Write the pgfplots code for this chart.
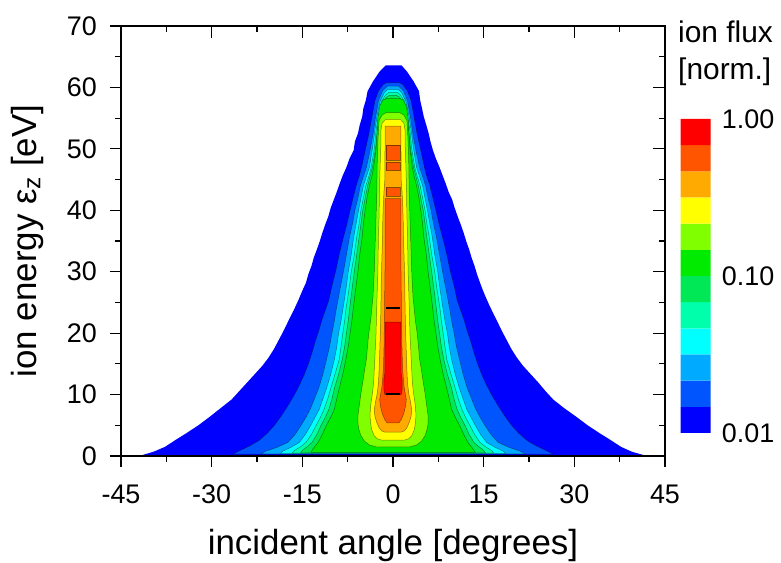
\documentclass[border=0pt]{standalone}
\usepackage{fontspec}
\setmainfont{Liberation Sans}
\usepackage{pgfplots}
\pgfplotsset{compat=1.18}
\definecolor{c1}{RGB}{0,0,255}
\definecolor{c2}{RGB}{0,85,255}
\definecolor{c3}{RGB}{0,170,255}
\definecolor{c4}{RGB}{0,255,255}
\definecolor{c5}{RGB}{0,255,170}
\definecolor{c6}{RGB}{0,232,85}
\definecolor{c7}{RGB}{0,235,0}
\definecolor{c8}{RGB}{128,255,0}
\definecolor{c9}{RGB}{255,255,0}
\definecolor{c10}{RGB}{255,170,0}
\definecolor{c11}{RGB}{255,85,0}
\definecolor{c12}{RGB}{255,0,0}
\pgfplotsset{cl/.style={fill=#1, draw=black, draw opacity=0.45, line width=0.5bp}}
\begin{document}
\begin{tikzpicture}
\path[use as bounding box] (-121bp,-107bp) rectangle (660bp,456bp);
\begin{axis}[at={(0,0)}, anchor=south west, scale only axis, width=544bp, height=430bp,
  xmin=-45, xmax=45, ymin=0, ymax=70, axis on top,
  xtick={-45,-30,-15,0,15,30,45}, xticklabels={-45,-30,-15,0,15,30,45},
  ytick={0,10,20,30,40,50,60,70}, yticklabels={0,10,20,30,40,50,60,70},
  minor x tick num=1, minor y tick num=1,
  xtick pos=left, ytick pos=left, tick align=outside,
  major tick length=11bp, minor tick length=6bp,
  axis line style={line width=1.2bp}, tick style={line width=1.1bp, black},
  tick label style={font=\fontsize{27}{32}\selectfont, inner sep=0pt},
  xticklabel style={anchor=north, yshift=-18bp},
  yticklabel style={anchor=east, xshift=-13bp},
  xlabel={incident angle [degrees]}, ylabel={ion energy ε\textsubscript{z} [eV]},
  label style={font=\fontsize{35}{42}\selectfont},
  xlabel style={at={(axis description cs:0.5,-0.207)}, anchor=center},
  ylabel style={at={(axis description cs:-0.1728,0.5)}, anchor=center},
]
% level 1
\addplot[fill=c1, draw=none] coordinates {(-42,0) (42,0) (39.5,0.7) (37.7,1.5) (36,2.6) (34.2,3.7) (32.2,5) (30.3,6.4) (28.3,7.8) (26.5,9.2) (25.2,10.6) (24,12) (22.7,13.4) (21.5,14.7) (20.5,16) (19.6,17.4) (18.9,18.7) (18.2,20) (17.5,21.4) (16.8,22.8) (16.1,24.2) (15.5,25.5) (14.9,26.9) (14.4,28.2) (13.9,29.6) (13.5,30.9) (13.0,32.3) (12.6,33.6) (12.1,35) (11.7,36.3) (11.2,37.7) (10.7,39) (10.2,40.4) (9.8,41.7) (9.2,43) (8.7,44.4) (8.2,45.7) (7.7,47) (7.1,48.4) (6.6,49.8) (6.2,51.2) (5.9,52.5) (5.5,53.9) (5.1,55.2) (4.8,56.6) (4.5,57.9) (4.3,59.4) (3.4,61) (2.3,62.6) (1.4,63.6) (-1.2,63.6) (-2.2,62.6) (-3.3,61) (-4.2,59.4) (-4.5,57.9) (-4.9,56.6) (-5.1,55.2) (-5.5,53.9) (-5.8,52.5) (-6.3,51.2) (-6.5,49.8) (-7.2,48.4) (-7.7,47) (-8.3,45.7) (-8.8,44.4) (-9.3,43) (-9.8,41.7) (-10.3,40.4) (-10.7,39) (-11.2,37.7) (-11.7,36.3) (-12.1,35) (-12.6,33.6) (-13.1,32.3) (-13.5,30.9) (-14.0,29.6) (-14.4,28.2) (-15.0,26.9) (-15.6,25.5) (-16.2,24.2) (-16.9,22.8) (-17.6,21.4) (-18.3,20) (-19.0,18.7) (-19.7,17.4) (-20.6,16) (-21.6,14.7) (-22.8,13.4) (-24.1,12) (-25.4,10.6) (-26.7,9.2) (-28.5,7.8) (-30.3,6.4) (-32.2,5) (-34.2,3.7) (-36,2.6) (-37.7,1.5) (-39.6,0.7) (-42,0)};
% level 2
\addplot[cl=c2] coordinates {(-26.5,0.3) (26.5,0.3) (25.5,0.8) (23.8,1.6) (22.2,2.5) (20.8,3.7) (19.6,5) (18.5,6.5) (17.5,8) (16.4,9.8) (15.5,11.5) (14.7,13.2) (14,15) (13.4,16.8) (12.9,18.5) (12.3,20.3) (11.8,22) (11.2,23.7) (10.6,25.4) (10.1,27.7) (9.5,30) (8.9,32.8) (8.2,35.6) (7.6,37.8) (7.1,40) (6.6,42) (6.1,44) (5.6,45.5) (5.2,47) (4.6,49.7) (4.0,52.4) (3.5,55.1) (3.0,57.8) (2.4,59.4) (1.6,60.5) (1.0,60.8) (-1.0,60.8) (-1.6,60.5) (-2.4,59.4) (-3.0,57.8) (-3.5,55.1) (-4.0,52.4) (-4.6,49.7) (-5.2,47) (-5.6,45.5) (-6.1,44) (-6.6,42) (-7.1,40) (-7.6,37.8) (-8.2,35.6) (-8.9,32.8) (-9.5,30) (-10.1,27.7) (-10.6,25.4) (-11.2,23.7) (-11.8,22) (-12.3,20.3) (-12.9,18.5) (-13.4,16.8) (-14,15) (-14.7,13.2) (-15.5,11.5) (-16.4,9.8) (-17.5,8) (-18.5,6.5) (-19.6,5) (-20.8,3.7) (-22.2,2.5) (-23.8,1.6) (-25.5,0.8) (-26.5,0.3)};
% level 3
\addplot[cl=c3] coordinates {(-21.8,0.35) (21.8,0.35) (21.0,0.8) (19.2,1.4) (17.4,2.2) (16.2,3.5) (15.2,5) (14.4,6.3) (13.7,7.6) (13,9.3) (12.3,11) (11.6,13.3) (11.0,15.7) (10.5,17.8) (10.1,20) (9.7,22) (9.4,23.8) (8.8,27) (8.2,30) (7.7,32.8) (7.2,35.6) (6.7,37.8) (6.3,40) (5.8,42) (5.4,44) (4.9,45.5) (4.4,47) (3.8,49.7) (3.3,52.4) (2.9,55.1) (2.4,57.8) (1.7,59.5) (0.9,60.2) (-0.9,60.2) (-1.7,59.5) (-2.4,57.8) (-2.9,55.1) (-3.3,52.4) (-3.8,49.7) (-4.4,47) (-4.9,45.5) (-5.4,44) (-5.8,42) (-6.3,40) (-6.7,37.8) (-7.2,35.6) (-7.7,32.8) (-8.2,30) (-8.8,27) (-9.4,23.8) (-9.7,22) (-10.1,20) (-10.5,17.8) (-11.0,15.7) (-11.6,13.3) (-12.3,11) (-13,9.3) (-13.7,7.6) (-14.4,6.3) (-15.2,5) (-16.2,3.5) (-17.4,2.2) (-19.2,1.4) (-21.0,0.8) (-21.8,0.35)};
% level 4
\addplot[cl=c4] coordinates {(-18.6,0.4) (18.6,0.4) (18.2,0.8) (16.9,1.4) (15.5,2.2) (14.5,3.5) (13.6,5) (12.9,6.3) (12.2,7.6) (11.6,9.3) (11.0,11) (10.3,13.3) (9.7,15.7) (9.3,17.8) (9.0,20) (8.6,22) (8.3,23.8) (7.8,27) (7.4,30) (6.9,32.8) (6.5,35.6) (6.1,37.8) (5.7,40) (5.3,42) (4.9,44) (4.4,45.5) (3.9,47) (3.4,50) (3.0,53) (2.6,55.5) (2.1,57.8) (1.4,59.2) (0.8,59.7) (-0.8,59.7) (-1.4,59.2) (-2.1,57.8) (-2.6,55.5) (-3.0,53) (-3.4,50) (-3.9,47) (-4.4,45.5) (-4.9,44) (-5.3,42) (-5.7,40) (-6.1,37.8) (-6.5,35.6) (-6.9,32.8) (-7.4,30) (-7.8,27) (-8.3,23.8) (-8.6,22) (-9.0,20) (-9.3,17.8) (-9.7,15.7) (-10.3,13.3) (-11.0,11) (-11.6,9.3) (-12.2,7.6) (-12.9,6.3) (-13.6,5) (-14.5,3.5) (-15.5,2.2) (-16.9,1.4) (-18.2,0.8) (-18.6,0.4)};
% level 5
\addplot[cl=c5] coordinates {(-16.7,0.45) (16.7,0.45) (16.3,0.9) (15.3,1.5) (14.4,2.2) (13.5,3.5) (12.7,5) (12.0,6.3) (11.4,7.6) (10.8,9.3) (10.3,11) (9.6,13.3) (8.9,15.7) (8.6,17.8) (8.3,20) (8.0,22) (7.8,23.8) (7.3,27) (6.9,30) (6.4,32.8) (6.0,35.6) (5.6,37.8) (5.3,40) (4.9,42) (4.5,44) (4.0,45.5) (3.6,47) (3.1,50) (2.8,53) (2.4,55.5) (1.9,57.8) (1.2,58.8) (0.7,59.2) (-0.7,59.2) (-1.2,58.8) (-1.9,57.8) (-2.4,55.5) (-2.8,53) (-3.1,50) (-3.6,47) (-4.0,45.5) (-4.5,44) (-4.9,42) (-5.3,40) (-5.6,37.8) (-6.0,35.6) (-6.4,32.8) (-6.9,30) (-7.3,27) (-7.8,23.8) (-8.0,22) (-8.3,20) (-8.6,17.8) (-8.9,15.7) (-9.6,13.3) (-10.3,11) (-10.8,9.3) (-11.4,7.6) (-12.0,6.3) (-12.7,5) (-13.5,3.5) (-14.4,2.2) (-15.3,1.5) (-16.3,0.9) (-16.7,0.45)};
% level 6
\addplot[cl=c6] coordinates {(-15.3,0.5) (15.3,0.5) (14.9,1.0) (14.1,1.6) (13.4,2.2) (12.6,3.5) (11.9,5) (11.2,6.3) (10.6,7.6) (10.1,9.3) (9.7,11) (9.0,13.3) (8.4,15.7) (8.0,17.8) (7.7,20) (7.4,22) (7.2,23.8) (6.8,27) (6.4,30) (6.0,32.8) (5.6,35.6) (5.3,37.8) (5.0,40) (4.6,42) (4.2,44) (3.8,45.5) (3.4,47) (2.9,50) (2.6,53) (2.2,55.5) (1.7,57.5) (1.1,58.4) (0.6,58.7) (-0.6,58.7) (-1.1,58.4) (-1.7,57.5) (-2.2,55.5) (-2.6,53) (-2.9,50) (-3.4,47) (-3.8,45.5) (-4.2,44) (-4.6,42) (-5.0,40) (-5.3,37.8) (-5.6,35.6) (-6.0,32.8) (-6.4,30) (-6.8,27) (-7.2,23.8) (-7.4,22) (-7.7,20) (-8.0,17.8) (-8.4,15.7) (-9.0,13.3) (-9.7,11) (-10.1,9.3) (-10.6,7.6) (-11.2,6.3) (-11.9,5) (-12.6,3.5) (-13.4,2.2) (-14.1,1.6) (-14.9,1.0) (-15.3,0.5)};
% level 7
\addplot[cl=c7] coordinates {(-13.6,0.6) (13.6,0.6) (13.2,1.2) (12.4,2.2) (11.7,3.5) (11.0,5) (10.3,6.3) (9.7,7.6) (9.3,9.3) (8.9,11) (8.3,13.3) (7.8,15.7) (7.4,17.8) (7.1,20) (6.8,22) (6.6,23.8) (6.2,27) (5.8,30) (5.5,32.8) (5.1,35.6) (4.9,37.8) (4.6,40) (4.3,42) (3.9,44) (3.5,45.5) (3.2,47) (2.8,50) (2.6,53) (2.5,55) (2.2,57) (1.6,58.0) (1.0,58.2) (-1.0,58.2) (-1.6,58.0) (-2.2,57) (-2.5,55) (-2.6,53) (-2.8,50) (-3.2,47) (-3.5,45.5) (-3.9,44) (-4.3,42) (-4.6,40) (-4.9,37.8) (-5.1,35.6) (-5.5,32.8) (-5.8,30) (-6.2,27) (-6.6,23.8) (-6.8,22) (-7.1,20) (-7.4,17.8) (-7.8,15.7) (-8.3,13.3) (-8.9,11) (-9.3,9.3) (-9.7,7.6) (-10.3,6.3) (-11.0,5) (-11.7,3.5) (-12.4,2.2) (-13.2,1.2) (-13.6,0.6)};
% level 8
\addplot[cl=c8] coordinates {(-2.8,1.5) (2.8,1.5) (3.9,1.8) (4.7,2.4) (5.3,3.3) (5.7,4.5) (5.8,5.5) (5.8,6.6) (5.6,8) (5.3,10.2) (5.0,12) (4.7,14) (4.4,15.7) (4.2,18) (4.0,20) (3.7,22) (3.5,24) (3.3,26) (3.2,28) (3.1,30) (3.0,33) (2.9,36) (2.8,39) (2.7,42) (2.65,45) (2.6,48) (2.5,51) (2.4,53) (2.3,54.6) (1.8,55.5) (1.1,55.9) (-1.1,55.9) (-1.8,55.5) (-2.3,54.6) (-2.4,53) (-2.5,51) (-2.6,48) (-2.65,45) (-2.7,42) (-2.8,39) (-2.9,36) (-3.0,33) (-3.1,30) (-3.2,28) (-3.3,26) (-3.5,24) (-3.7,22) (-4.0,20) (-4.2,18) (-4.4,15.7) (-4.7,14) (-5.0,12) (-5.3,10.2) (-5.6,8) (-5.8,6.6) (-5.8,5.5) (-5.7,4.5) (-5.3,3.3) (-4.7,2.4) (-3.9,1.8) (-2.8,1.5)};
% level 9
\addplot[cl=c9] coordinates {(-1.9,2.6) (1.9,2.6) (2.6,2.8) (3.1,3.3) (3.5,4.2) (3.7,5.3) (3.8,6.6) (3.7,8.2) (3.4,10.2) (3.2,12) (3.1,14) (3.0,16) (2.9,18) (2.8,20) (2.75,22) (2.7,24) (2.6,27) (2.5,30) (2.45,33) (2.4,36) (2.3,39) (2.25,42) (2.2,45) (2.1,48) (2.0,51) (2.0,53) (1.8,54.2) (1.2,54.8) (-1.2,54.8) (-1.8,54.2) (-2.0,53) (-2.0,51) (-2.1,48) (-2.2,45) (-2.25,42) (-2.3,39) (-2.4,36) (-2.45,33) (-2.5,30) (-2.6,27) (-2.7,24) (-2.75,22) (-2.8,20) (-2.9,18) (-3.0,16) (-3.1,14) (-3.2,12) (-3.4,10.2) (-3.7,8.2) (-3.8,6.6) (-3.7,5.3) (-3.5,4.2) (-3.1,3.3) (-2.6,2.8) (-1.9,2.6)};
% level 10
\addplot[cl=c10] coordinates {(-1.4,3.9) (1.4,3.9) (1.9,4.1) (2.3,4.6) (2.7,5.5) (3.0,6.5) (3.1,7.5) (2.9,8.8) (2.6,10.2) (2.4,12) (2.3,14) (2.2,17) (2.1,20) (2.0,24) (1.95,28) (1.85,32) (1.75,35) (1.7,38) (1.6,41) (1.5,43) (1.35,45) (1.3,53.7) (-1.3,53.7) (-1.35,45) (-1.5,43) (-1.6,41) (-1.7,38) (-1.75,35) (-1.85,32) (-1.95,28) (-2.0,24) (-2.1,20) (-2.2,17) (-2.3,14) (-2.4,12) (-2.6,10.2) (-2.9,8.8) (-3.1,7.5) (-3.0,6.5) (-2.7,5.5) (-2.3,4.6) (-1.9,4.1) (-1.4,3.9)};
% level 11
\addplot[cl=c11] coordinates {(-1.0,5.4) (1.0,5.4) (1.4,6.0) (1.8,7.0) (2.1,8.2) (2.2,9.2) (2.0,10.3) (1.8,11.5) (1.6,14) (1.5,17) (1.45,20) (1.4,24) (1.35,28) (1.3,32) (1.3,41.9) (-1.3,41.9) (-1.3,32) (-1.35,28) (-1.4,24) (-1.45,20) (-1.5,17) (-1.6,14) (-1.8,11.5) (-2.0,10.3) (-2.2,9.2) (-2.1,8.2) (-1.8,7.0) (-1.4,6.0) (-1.0,5.4)};
\addplot[cl=c11] coordinates {(-1.15,42.3) (1.15,42.3) (1.15,43.7) (-1.15,43.7) (-1.15,42.3)};
\addplot[cl=c11] coordinates {(-1.15,46.5) (1.15,46.5) (1.15,47.8) (-1.15,47.8) (-1.15,46.5)};
\addplot[cl=c11] coordinates {(-1.15,48.2) (1.15,48.2) (1.15,50.6) (-1.15,50.6) (-1.15,48.2)};
% level 12
\addplot[cl=c12] coordinates {(-1.35,10.0) (1.35,10.0) (1.5,10.8) (1.5,12.5) (1.35,13.5) (1.3,21.8) (-1.3,21.8) (-1.35,13.5) (-1.5,12.5) (-1.5,10.8) (-1.35,10.0)};
% black marks
\addplot[black, line width=1.4bp] coordinates {(-1.1,24.1) (1.1,24.1)};
\addplot[black, line width=1.4bp] coordinates {(-1.1,10.1) (1.1,10.1)};
\addplot[black, line width=2.4bp] coordinates {(-45,0) (45,0)};
\end{axis}
\begin{axis}[at={(0,0)}, anchor=south west, scale only axis, width=544bp, height=430bp,
  xmin=-45, xmax=45, ymin=0, ymax=70,
  xtick={-45,-30,-15,0,15,30,45}, ytick={0,10,20,30,40,50,60,70},
  xticklabels={}, yticklabels={},
  minor x tick num=1, minor y tick num=1,
  xtick pos=right, ytick pos=right, tick align=inside,
  major tick length=12bp, minor tick length=6bp,
  axis line style={line width=1.2bp}, tick style={line width=1.1bp, black}]
\end{axis}
\begin{axis}[at={(559.7bp,23bp)}, anchor=south west, scale only axis, width=30bp, height=314bp,
  xmin=0, xmax=1, ymin=-2, ymax=0, axis line style={draw=none},
  xtick=\empty, ytick={-2,-1,0}, yticklabels={0.01,0.10,1.00},
  ytick pos=right, yticklabel pos=right, major tick length=0pt,
  tick label style={font=\fontsize{27}{32}\selectfont, inner sep=0pt},
  yticklabel style={anchor=west, xshift=11bp}]
\addplot[fill=c1, draw=none] coordinates {(0,-2) (1,-2) (1,-1.8333) (0,-1.8333) (0,-2)};
\addplot[fill=c2, draw=none] coordinates {(0,-1.8333) (1,-1.8333) (1,-1.6667) (0,-1.6667) (0,-1.8333)};
\addplot[fill=c3, draw=none] coordinates {(0,-1.6667) (1,-1.6667) (1,-1.5) (0,-1.5) (0,-1.6667)};
\addplot[fill=c4, draw=none] coordinates {(0,-1.5) (1,-1.5) (1,-1.3333) (0,-1.3333) (0,-1.5)};
\addplot[fill=c5, draw=none] coordinates {(0,-1.3333) (1,-1.3333) (1,-1.1667) (0,-1.1667) (0,-1.3333)};
\addplot[fill=c6, draw=none] coordinates {(0,-1.1667) (1,-1.1667) (1,-1.0) (0,-1.0) (0,-1.1667)};
\addplot[fill=c7, draw=none] coordinates {(0,-1.0) (1,-1.0) (1,-0.8333) (0,-0.8333) (0,-1.0)};
\addplot[fill=c8, draw=none] coordinates {(0,-0.8333) (1,-0.8333) (1,-0.6667) (0,-0.6667) (0,-0.8333)};
\addplot[fill=c9, draw=none] coordinates {(0,-0.6667) (1,-0.6667) (1,-0.5) (0,-0.5) (0,-0.6667)};
\addplot[fill=c10, draw=none] coordinates {(0,-0.5) (1,-0.5) (1,-0.3333) (0,-0.3333) (0,-0.5)};
\addplot[fill=c11, draw=none] coordinates {(0,-0.3333) (1,-0.3333) (1,-0.1667) (0,-0.1667) (0,-0.3333)};
\addplot[fill=c12, draw=none] coordinates {(0,-0.1667) (1,-0.1667) (1,0) (0,0) (0,-0.1667)};
\end{axis}
\node[anchor=base west, inner sep=0pt, font=\fontsize{30}{36}\selectfont] at (557bp,413bp) {ion flux};
\node[anchor=base west, inner sep=0pt, font=\fontsize{30}{36}\selectfont] at (557bp,376bp) {[norm.]};
\end{tikzpicture}
\end{document}
